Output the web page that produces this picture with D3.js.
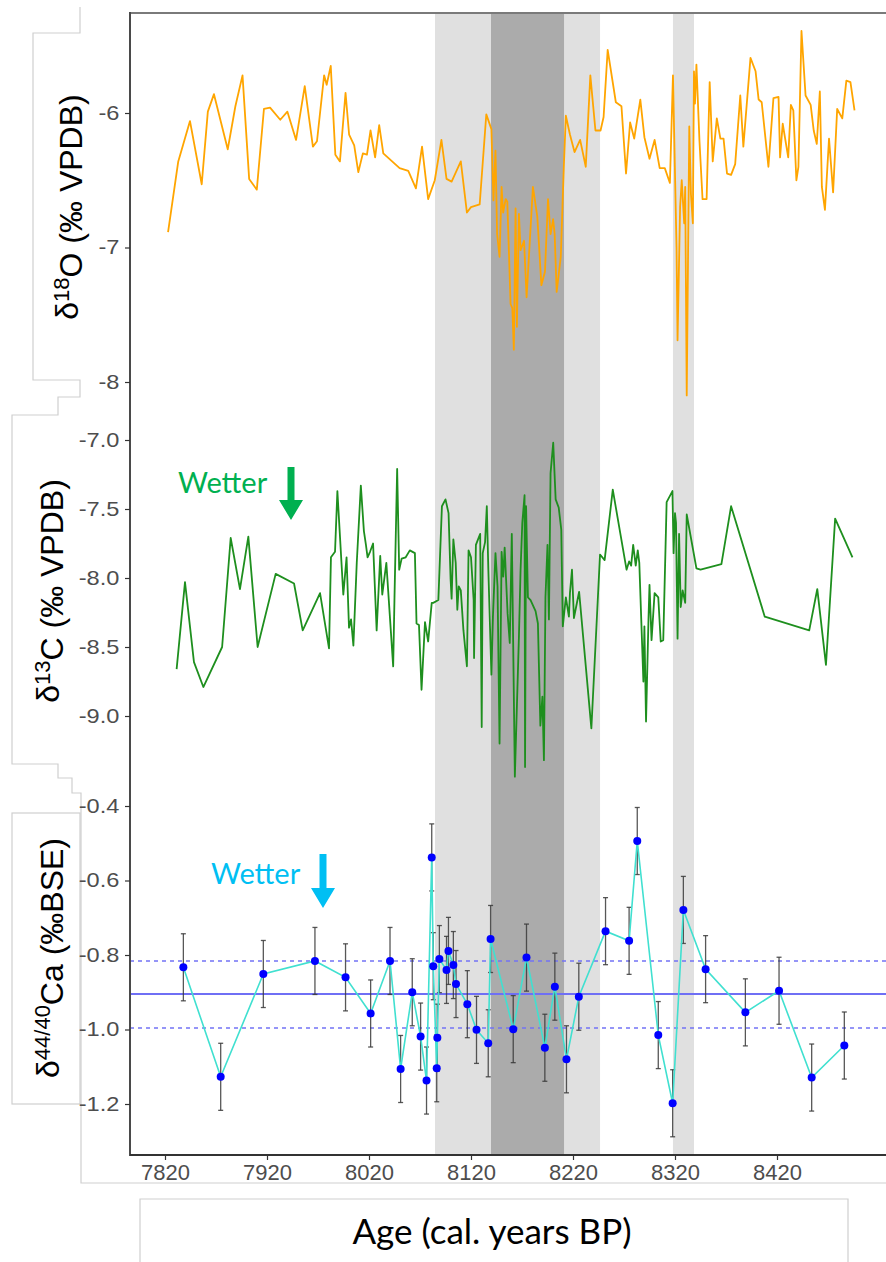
<!DOCTYPE html>
<html><head><meta charset="utf-8">
<script src="https://cdn.jsdelivr.net/npm/d3@7"></script>
<style>body{margin:0;background:#fff}svg{display:block}</style>
</head><body>
<script>
// ---------------- DATA ----------------
const xTicks = [7820, 7920, 8020, 8120, 8220, 8320, 8420];
const o18Ticks = [-6, -7, -8];
const o18TickLabels = ["-6", "-7", "-8"];
const c13Ticks = [-7, -7.5, -8, -8.5, -9];
const c13TickLabels = ["-7.0", "-7.5", "-8.0", "-8.5", "-9.0"];
const caTicks = [-0.4, -0.6, -0.8, -1.0, -1.2];
const caTickLabels = ["-0.4", "-0.6", "-0.8", "-1.0", "-1.2"];

// shaded event bands [start, end] (cal. years BP)
const lightBands = [[8084.7, 8246.5], [8318, 8338.6]];
const darkBands = [[8139.6, 8211.2]];

const o18Age = [7823,7833,7844.5,7856,7862,7868,7881.5,7889,7896,7902.5,7910,7917,7923,7933,7940,7948.5,7957,7965,7969,7976,7978.5,7982.5,7987,7991.5,7997,8000.5,8005.5,8009.5,8014,8018,8021.5,8026,8030,8034,8050,8058.5,8066,8072,8078,8084.5,8091,8096,8101,8110,8116,8120,8128.5,8135,8140,8142,8144,8145.6,8148,8150,8151.5,8154,8155.6,8158.8,8160.5,8162,8163.7,8165,8167,8168.6,8172,8174.5,8180.7,8185,8189,8192.5,8195.5,8198,8200.5,8202,8204,8208,8211,8213,8217,8221.5,8227,8232.5,8237,8242,8247,8250,8254,8262,8267.5,8272,8276,8280,8286,8290,8295,8300,8305,8310,8315,8318,8321.5,8322.5,8325,8326.6,8329,8330,8331.5,8334,8335.6,8337.5,8338.6,8339.6,8341,8344,8347,8351,8354,8357,8361,8364.5,8367.6,8371,8375,8379,8384,8387,8394,8399,8402,8405,8411.6,8416.5,8421.5,8423,8425.6,8431,8433.6,8436,8439,8441,8444,8448,8453,8456,8459,8462,8464,8467,8471,8475,8479,8484,8488,8492,8496];
const o18Val = [-6.885,-6.36,-6.06,-6.53,-5.99,-5.86,-6.27,-5.95,-5.72,-6.49,-6.57,-5.97,-5.96,-6.05,-5.99,-6.20,-5.80,-6.25,-6.21,-5.72,-5.79,-5.65,-6.31,-6.36,-5.85,-6.16,-6.24,-6.44,-6.30,-6.31,-6.13,-6.33,-6.09,-6.30,-6.41,-6.43,-6.56,-6.25,-6.64,-6.50,-6.20,-6.49,-6.51,-6.36,-6.74,-6.70,-6.68,-6.01,-6.12,-6.65,-6.28,-6.90,-7.07,-6.55,-6.74,-6.64,-6.66,-7.42,-7.45,-7.76,-6.71,-7.59,-6.75,-7.02,-6.95,-7.37,-6.55,-6.77,-7.28,-7.18,-6.64,-6.90,-6.79,-6.90,-7.33,-7.07,-6.40,-6.02,-6.16,-6.29,-6.20,-6.40,-5.72,-6.13,-6.13,-6.03,-5.53,-5.92,-5.95,-6.45,-6.07,-6.19,-5.90,-6.18,-6.34,-6.20,-6.41,-6.41,-6.52,-5.72,-7.00,-7.69,-6.70,-6.50,-6.82,-6.55,-8.10,-6.10,-6.60,-6.82,-5.69,-5.93,-5.64,-6.21,-6.64,-6.64,-5.77,-6.36,-6.04,-6.19,-6.19,-6.45,-6.46,-6.38,-5.87,-6.25,-5.59,-5.69,-5.90,-5.92,-6.40,-5.89,-5.88,-6.33,-6.08,-6.33,-5.94,-5.98,-6.50,-6.40,-5.39,-5.87,-5.94,-6.13,-6.23,-5.84,-6.55,-6.72,-6.19,-6.59,-5.97,-6.04,-5.76,-5.77,-5.98];

const c13Age = [7831.4,7839.6,7848.4,7857.6,7876,7884.4,7893.5,7901.7,7910.8,7928.5,7946.5,7955,7972,7980.8,7982.7,7986.7,7989,7994.8,7998,8000.4,8002.4,8004.7,8008,8012,8015,8017,8018.6,8021,8024,8027.5,8031,8033,8037,8043.7,8045,8047.6,8049.6,8052,8056,8060,8065,8066.6,8069,8071.5,8074.9,8078,8081.5,8083,8088,8091.5,8095,8098,8100,8101,8102.7,8105,8106.6,8108,8110,8112.6,8116,8117.6,8120,8122.6,8123,8124.8,8129,8130.5,8131.5,8133.8,8135.5,8137,8140,8141.5,8144,8146,8148,8150,8151.6,8153,8155.9,8158,8160,8163,8167,8168.6,8170.3,8172.5,8173,8174,8175.8,8178.4,8183.3,8185.6,8188,8190,8191.5,8193,8195,8196.4,8198,8200.6,8203,8206,8208.5,8210,8211,8213,8216,8217,8219,8220.9,8226,8238,8246.5,8251,8259,8272.5,8275,8277,8279,8281.5,8283.5,8285,8289,8290,8291.6,8294,8295,8297,8300,8303.6,8306,8308.5,8311.8,8317.5,8318.6,8320,8321,8322.5,8324,8325.6,8327.5,8330,8331.5,8341,8345,8365.5,8375,8408,8451.6,8459.5,8468,8477,8494];
const c13Val = [-8.66,-8.03,-8.61,-8.79,-8.50,-7.71,-8.08,-7.70,-8.50,-7.97,-8.04,-8.38,-8.11,-8.51,-7.85,-7.81,-7.37,-8.12,-7.85,-8.36,-8.30,-8.49,-7.89,-7.33,-7.66,-7.76,-7.85,-7.81,-7.75,-8.38,-7.84,-8.12,-7.89,-8.64,-8.14,-7.21,-7.94,-7.86,-7.85,-7.80,-7.82,-8.33,-8.34,-8.81,-8.32,-8.46,-8.18,-8.18,-8.16,-7.48,-7.43,-7.53,-8.01,-8.15,-7.72,-7.89,-8.23,-8.06,-8.09,-8.38,-8.64,-7.80,-7.85,-8.16,-8.58,-7.76,-7.68,-9.08,-7.82,-7.74,-7.48,-7.94,-8.70,-8.28,-7.82,-8.06,-9.20,-7.81,-7.99,-7.78,-8.26,-8.47,-7.68,-9.44,-8.42,-7.94,-7.60,-7.40,-9.37,-7.48,-8.14,-8.16,-8.24,-8.33,-9.07,-8.86,-9.32,-8.14,-7.76,-8.30,-7.24,-7.02,-7.43,-7.49,-7.65,-8.35,-8.28,-8.14,-8.28,-8.11,-7.94,-8.29,-8.10,-9.09,-7.83,-7.87,-7.36,-7.94,-7.88,-7.91,-7.76,-7.91,-7.80,-7.89,-8.75,-8.35,-9.04,-8.30,-8.05,-8.45,-8.11,-8.14,-8.46,-8.45,-7.45,-7.37,-7.82,-7.53,-7.60,-8.44,-7.68,-8.21,-8.09,-8.18,-7.54,-7.93,-7.94,-7.90,-7.48,-8.28,-8.38,-8.08,-8.63,-7.57,-7.85];

const caAge = [7838,7874.6,7916.4,7967,7997,8021.6,8040.6,8051,8062.4,8070.6,8076.4,8081.5,8083,8086.4,8087,8089,8096,8097.9,8102.7,8105.3,8116.4,8125.4,8136.9,8139.2,8161.4,8174.4,8192.4,8202.2,8213.6,8225.7,8251.9,8275,8283,8303.6,8317.7,8328.2,8350,8389,8422,8454,8486];
const caVal = [-0.833,-1.127,-0.851,-0.816,-0.860,-0.957,-0.816,-1.106,-0.900,-1.019,-1.137,-0.538,-0.830,-1.104,-1.022,-0.811,-0.840,-0.789,-0.827,-0.878,-0.932,-1.001,-1.037,-0.757,-0.999,-0.807,-1.049,-0.885,-1.080,-0.912,-0.736,-0.762,-0.494,-1.015,-1.198,-0.679,-0.838,-0.954,-0.896,-1.129,-1.043];
const caErr = [0.09,0.09,0.09,0.09,0.09,0.09,0.09,0.09,0.09,0.09,0.09,0.09,0.09,0.09,0.09,0.09,0.09,0.09,0.09,0.09,0.09,0.09,0.09,0.09,0.09,0.09,0.09,0.09,0.09,0.09,0.09,0.09,0.09,0.09,0.09,0.09,0.09,0.09,0.09,0.09,0.09];
const caMean = -0.905;
const caBand = [-0.816, -0.996];

// ---------------- LAYOUT ----------------
const W = 886, H = 1262;
const axisX = 130, topY = 13, bottomY = 1155, rightX = 886;
const svg = d3.select("body").append("svg").attr("width", W).attr("height", H);

const x = d3.scaleLinear().domain([7820, 8420]).range([165, 777]);
const yO = d3.scaleLinear().domain([-6, -8]).range([113, 382]);
const yC = d3.scaleLinear().domain([-7, -9]).range([440, 716]);
const yCa = d3.scaleLinear().domain([-0.4, -1.2]).range([806, 1104]);

const boxCol = "#cfcfcf";
// composite panel outlines (light gray frames)
svg.append("path")
  .attr("d", "M80,7V33H33V380H80V397H58V415H12V764H58V778H72V793H81V1183H886")
  .attr("fill", "none").attr("stroke", boxCol).attr("stroke-width", 1.2);
svg.append("rect").attr("x", 12).attr("y", 813).attr("width", 68).attr("height", 291)
  .attr("fill", "none").attr("stroke", boxCol).attr("stroke-width", 1.2);
svg.append("path").attr("d", "M140,1262V1199H848V1262")
  .attr("fill", "none").attr("stroke", boxCol).attr("stroke-width", 1.2);

// bands
svg.selectAll("rect.lb").data(lightBands).enter().append("rect")
  .attr("x", d => x(d[0])).attr("width", d => x(d[1]) - x(d[0]))
  .attr("y", topY).attr("height", bottomY - topY).attr("fill", "#e0e0e0");
svg.selectAll("rect.db").data(darkBands).enter().append("rect")
  .attr("x", d => x(d[0])).attr("width", d => x(d[1]) - x(d[0]))
  .attr("y", topY).attr("height", bottomY - topY).attr("fill", "#ababab");

// Ca reference lines
svg.append("line").attr("x1", axisX).attr("x2", rightX).attr("y1", yCa(caMean)).attr("y2", yCa(caMean))
  .attr("stroke", "#6f6ff5").attr("stroke-width", 2);
caBand.forEach(v => svg.append("line").attr("x1", axisX).attr("x2", rightX).attr("y1", yCa(v)).attr("y2", yCa(v))
  .attr("stroke", "#7373f5").attr("stroke-width", 1.6).attr("stroke-dasharray", "4,4"));

// d18O line
const o18 = o18Age.map((a, i) => [a, o18Val[i]]);
svg.append("path").datum(o18)
  .attr("d", d3.line().x(d => x(d[0])).y(d => yO(d[1])))
  .attr("fill", "none").attr("stroke", "#ffa500").attr("stroke-width", 1.8).attr("stroke-linejoin", "round");

// d13C line
const c13 = c13Age.map((a, i) => [a, c13Val[i]]);
svg.append("path").datum(c13)
  .attr("d", d3.line().x(d => x(d[0])).y(d => yC(d[1])))
  .attr("fill", "none").attr("stroke", "#1e8f1e").attr("stroke-width", 1.8).attr("stroke-linejoin", "round");

// Ca series
const ca = caAge.map((a, i) => ({a, v: caVal[i], e: caErr[i]}));
const eb = svg.append("g").attr("stroke", "#3a3a3a").attr("stroke-width", 1.3).attr("stroke-opacity", 0.85);
ca.forEach(d => {
  const cx = x(d.a), y1 = yCa(d.v + d.e), y2 = yCa(d.v - d.e);
  eb.append("line").attr("x1", cx).attr("x2", cx).attr("y1", y1).attr("y2", y2);
  eb.append("line").attr("x1", cx - 2.5).attr("x2", cx + 2.5).attr("y1", y1).attr("y2", y1);
  eb.append("line").attr("x1", cx - 2.5).attr("x2", cx + 2.5).attr("y1", y2).attr("y2", y2);
});
svg.append("path").datum(ca)
  .attr("d", d3.line().x(d => x(d.a)).y(d => yCa(d.v)))
  .attr("fill", "none").attr("stroke", "#40e0d0").attr("stroke-width", 1.6);
svg.selectAll("circle.ca").data(ca).enter().append("circle")
  .attr("cx", d => x(d.a)).attr("cy", d => yCa(d.v)).attr("r", 4).attr("fill", "#0000ff");

// axes frame lines
svg.append("line").attr("x1", axisX).attr("x2", rightX).attr("y1", topY).attr("y2", topY)
  .attr("stroke", "#7a7a7a").attr("stroke-width", 2);
svg.append("line").attr("x1", axisX).attr("x2", axisX).attr("y1", topY - 1).attr("y2", bottomY + 1)
  .attr("stroke", "#4a4a4a").attr("stroke-width", 2);
svg.append("line").attr("x1", axisX).attr("x2", rightX).attr("y1", bottomY).attr("y2", bottomY)
  .attr("stroke", "#333", ).attr("stroke-width", 2);

function yAxis(scale, vals, labels) {
  const g = svg.append("g").attr("transform", `translate(${axisX},0)`)
    .call(d3.axisLeft(scale).tickValues(vals).tickSize(5).tickPadding(4)
      .tickFormat((d, i) => labels[i]));
  g.attr("font-family", null);
  g.select(".domain").remove();
  g.selectAll(".tick line").attr("stroke", "#333").attr("stroke-width", 1.2);
  g.selectAll(".tick text").attr("fill", "#4d4d4d")
    .style("font-family", "'Liberation Sans', Arial, sans-serif").style("font-size", "20px")
    .attr("transform", "scale(1.18,1)");
}
yAxis(yO, o18Ticks, o18TickLabels);
yAxis(yC, c13Ticks, c13TickLabels);
yAxis(yCa, caTicks, caTickLabels);

const gx = svg.append("g").attr("transform", `translate(0,${bottomY})`)
  .call(d3.axisBottom(x).tickValues(xTicks).tickSize(5).tickPadding(4).tickFormat(d3.format("d")));
gx.attr("font-family", null);
gx.select(".domain").remove();
gx.selectAll(".tick line").attr("stroke", "#333").attr("stroke-width", 1.2);
gx.selectAll(".tick text").attr("fill", "#4d4d4d")
  .style("font-family", "'Liberation Sans', Arial, sans-serif").style("font-size", "22px");

// axis titles
function yTitle(cx, cy, pre, sup, post) {
  const t = svg.append("text").attr("transform", `translate(${cx},${cy}) rotate(-90)`)
    .attr("text-anchor", "middle").attr("fill", "#000")
    .style("font-family", "'Liberation Sans', Arial, sans-serif").style("font-size", "32px");
  t.append("tspan").text(pre);
  t.append("tspan").attr("dy", "-0.42em").style("font-size", "22px").text(sup);
  t.append("tspan").attr("dy", "0.42em").text(post);
}
yTitle(78, 207, "δ", "18", "O (‰ VPDB)");
yTitle(59, 591, "δ", "13", "C (‰ VPDB)");
yTitle(59, 958, "δ", "44/40", "Ca (‰BSE)");

svg.append("text").attr("x", 492).attr("y", 1244).attr("text-anchor", "middle")
  .style("font-family", "Lato, 'Open Sans', sans-serif").style("font-size", "35px").attr("fill", "#000")
  .text("Age (cal. years BP)");

// "Wetter" annotations
function wetter(tx, ty, ax, ay1, ay2, col) {
  svg.append("text").attr("x", tx).attr("y", ty).attr("fill", col)
    .style("font-family", "Lato, 'Open Sans', sans-serif").style("font-size", "29px").text("Wetter");
  svg.append("path")
    .attr("d", `M${ax - 3.5},${ay1}H${ax + 3.5}V${ay2 - 20}H${ax + 12}L${ax},${ay2}L${ax - 12},${ay2 - 20}H${ax - 3.5}Z`)
    .attr("fill", col);
}
wetter(178, 493, 291, 467, 520, "#00b050");
wetter(211, 884, 323, 854, 908, "#00bff3");
</script>
</body></html>
